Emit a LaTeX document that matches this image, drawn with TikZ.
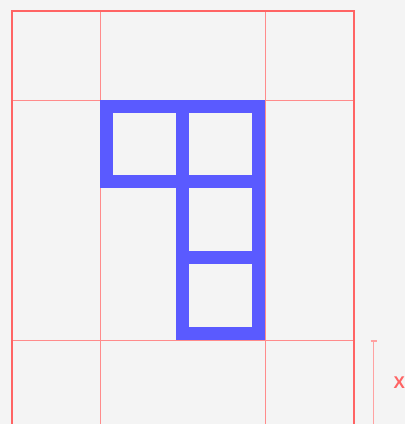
\documentclass[tikz,border=0pt]{standalone}
\usepackage{fontspec}
\setmainfont{Liberation Sans}
\definecolor{bgc}{HTML}{F4F4F4}
\definecolor{redc}{HTML}{FF6464}
\definecolor{bluec}{HTML}{5A5AFF}
\begin{document}
\begin{tikzpicture}[x=1pt,y=-1pt,
  frame/.style={draw=redc,line width=2pt},
  guide/.style={draw=redc!75,line width=1pt},
  cell/.style={draw=bluec,line width=13pt,miter limit=10},
  dimline/.style={draw=redc!60,line width=1.2pt},
  lbl/.style={text=redc,font=\bfseries\fontsize{17}{17}\selectfont,inner sep=0pt,anchor=west}]
\fill[bgc] (0,0) rectangle (405,424);
\useasboundingbox (0,0) rectangle (405,424);
\begin{scope}
\clip (0,0) rectangle (405,424);
% guides
\draw[guide] (100.5,11) -- (100.5,430);
\draw[guide] (265.5,11) -- (265.5,430);
\draw[guide] (12,100.5) -- (354,100.5);
\draw[guide] (12,340.5) -- (354,340.5);
% frame
\draw[frame] (12,11) rectangle (354,440);
% blue cells
\draw[cell] (106.5,106.5) rectangle (182.5,181.5);
\draw[cell] (182.5,106.5) rectangle (258.5,181.5);
\draw[cell] (182.5,181.5) rectangle (258.5,257.5);
\draw[cell] (182.5,257.5) rectangle (258.5,333.5);
% dimension
\coordinate (dtop) at (373.5,341);
\coordinate (dbot) at (373.5,430);
\draw[dimline] (dtop) -- (dbot);
\draw[dimline] (370.5,341) -- (376.5,341);
\node[lbl] (xl) at (393.5,383) {X};
\end{scope}
\end{tikzpicture}
\end{document}
